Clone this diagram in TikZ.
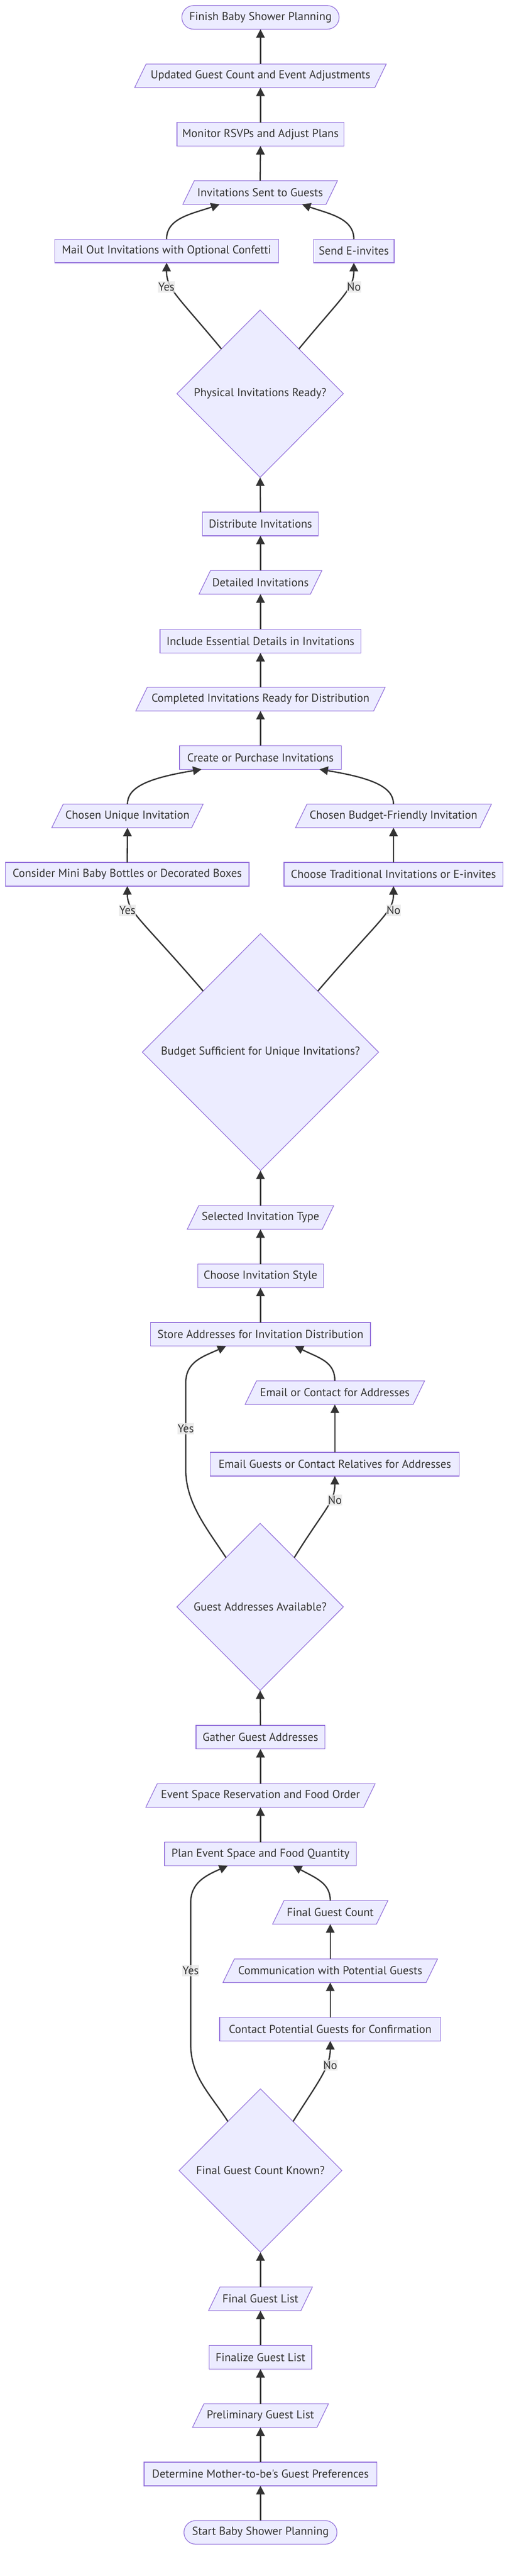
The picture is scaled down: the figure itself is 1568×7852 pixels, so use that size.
\documentclass[tikz,border=0pt]{standalone}
\usepackage{fontspec}
\setmainfont{PT Sans}[Ligatures=TeXOff]
\usetikzlibrary{arrows.meta,shapes.geometric,calc}
\definecolor{nodefill}{HTML}{ECECFF}
\definecolor{nodeline}{HTML}{9370DB}
\definecolor{ink}{HTML}{333333}
\definecolor{lblfill}{HTML}{E8E8E8}
\tikzset{
  base/.style={font=\fontsize{35pt}{42pt}\selectfont, text=ink, inner sep=0pt, outer sep=0pt, minimum height=72pt},
  procbox/.style={base, rectangle, draw=nodeline, fill=nodefill, line width=2pt},
  termbox/.style={procbox, rounded corners=36pt},
  paratext/.style={base, rectangle},
  decision/.style={base, diamond, draw=nodeline, fill=nodefill, line width=2pt},
  paraline/.style={draw=nodeline, fill=nodefill, line width=2pt},
  edge/.style={draw=ink, line width=4pt, -{Triangle[width=26pt,length=26pt]}},
  lbl/.style={base, fill=lblfill, fill opacity=0.8, text opacity=1, minimum height=34pt, inner xsep=1pt},
}
\newcommand\paranode[5]{%
  \path[paraline] ({#2-#4/2+17.5},{#3-36}) -- ({#2+#4/2+17.5},{#3-36}) -- ({#2+#4/2-17.5},{#3+36}) -- ({#2-#4/2-17.5},{#3+36}) -- cycle;
  \node[paratext, minimum width=#4pt] (#1) at (#2,#3) {#5};}
\begin{document}
\begin{tikzpicture}[x=1pt,y=-1pt]
\useasboundingbox (0,0) rectangle (1568,7852);
% nodes
\node[termbox, minimum width=480pt] (finish) at (795,53) {Finish Baby Shower Planning};
\paranode{updated}{795}{231}{733}{Updated Guest Count and Event Adjustments}
\node[procbox, minimum width=510pt] (monitor) at (795,409) {Monitor RSVPs and Adjust Plans};
\paranode{sent}{794}{587}{437}{Invitations Sent to Guests}
\node[procbox, minimum width=683pt] (mail) at (508.5,765) {Mail Out Invitations with Optional Confetti};
\node[procbox, minimum width=246pt] (einv) at (1080,765) {Send E-invites};
\node[decision, minimum width=508pt, minimum height=510pt] (phys) at (794,1200) {Physical Invitations Ready?};
\node[procbox, minimum width=353pt] (distribute) at (795,1597) {Distribute Invitations};
\paranode{detailed}{795}{1775}{340}{Detailed Invitations}
\node[procbox, minimum width=613pt] (include) at (795,1954) {Include Essential Details in Invitations};
\paranode{completed}{795}{2131}{726}{Completed Invitations Ready for Distribution}
\node[procbox, minimum width=494pt] (create) at (795,2309) {Create or Purchase Invitations};
\paranode{unique}{389}{2487}{427}{Chosen Unique Invitation}
\paranode{budgetfr}{1201}{2487}{563}{Chosen Budget-Friendly Invitation}
\node[procbox, minimum width=743pt] (consider) at (388.5,2665) {Consider Mini Baby Bottles or Decorated Boxes};
\node[procbox, minimum width=668pt] (trad) at (1201,2665) {Choose Traditional Invitations or E-invites};
\node[decision, minimum width=721pt, minimum height=722pt] (budget) at (795,3207) {Budget Sufficient for Unique Invitations?};
\paranode{selected}{795}{3711}{412}{Selected Invitation Type}
\node[procbox, minimum width=383pt] (style) at (795,3889) {Choose Invitation Style};
\node[procbox, minimum width=671pt] (store) at (795,4067) {Store Addresses for Invitation Distribution};
\paranode{emailc}{1022}{4245}{513}{Email or Contact for Addresses}
\node[procbox, minimum width=760pt] (emailg) at (1022,4463) {Email Guests or Contact Relatives for Addresses};
\node[decision, minimum width=508pt, minimum height=509pt] (addr) at (794,4898) {Guest Addresses Available?};
\node[procbox, minimum width=393pt] (gather) at (795,5295) {Gather Guest Addresses};
\paranode{eventres}{795}{5473}{665}{Event Space Reservation and Food Order}
\node[procbox, minimum width=585pt] (plan) at (795,5651) {Plan Event Space and Food Quantity};
\paranode{fgc}{1008}{5829}{317}{Final Guest Count}
\paranode{comm}{1008}{6007}{620}{Communication with Potential Guests}
\node[procbox, minimum width=675pt] (contact) at (1008,6185) {Contact Potential Guests for Confirmation};
\node[decision, minimum width=497pt, minimum height=498pt] (known) at (795,6616) {Final Guest Count Known?};
\paranode{fgl}{795}{7007}{282}{Final Guest List}
\node[procbox, minimum width=313pt] (finalize) at (795,7185) {Finalize Guest List};
\paranode{prelim}{795}{7363}{380}{Preliminary Guest List}
\node[procbox, minimum width=711pt] (determine) at (795,7541) {Determine Mother-to-be's Guest Preferences};
\node[termbox, minimum width=467pt] (start) at (795,7719) {Start Baby Shower Planning};
% straight edges
\draw[edge] (start.north) -- (determine.south);
\draw[edge] (determine.north) -- (prelim.south);
\draw[edge] (prelim.north) -- (finalize.south);
\draw[edge] (finalize.north) -- (fgl.south);
\draw[edge] (fgl.north) -- (known.south);
\draw[edge] (contact.north) -- (comm.south);
\draw[edge] (comm.north) -- (fgc.south);
\draw[edge] (plan.north) -- (eventres.south);
\draw[edge] (eventres.north) -- (gather.south);
\draw[edge] (gather.north) -- (addr.south);
\draw[edge] (emailg.north) -- (emailc.south);
\draw[edge] (store.north) -- (style.south);
\draw[edge] (style.north) -- (selected.south);
\draw[edge] (selected.north) -- (budget.south);
\draw[edge] (consider.north) -- (unique.south);
\draw[edge] (trad.north) -- (budgetfr.south);
\draw[edge] (create.north) -- (completed.south);
\draw[edge] (completed.north) -- (include.south);
\draw[edge] (include.north) -- (detailed.south);
\draw[edge] (detailed.north) -- (distribute.south);
\draw[edge] (distribute.north) -- (phys.south);
\draw[edge] (sent.north) -- (monitor.south);
\draw[edge] (monitor.north) -- (updated.south);
\draw[edge] (updated.north) -- (finish.south);
% curved edges
\draw[edge] ($(known.north)!0.4!(known.west)$) .. controls (640,6380) and (582,6330) .. (582,6230) -- (582,5800) .. controls (582,5740) and (625,5718) .. ($(plan.south)+(-100,0)$);
\draw[edge] ($(known.north)!0.4!(known.east)$) .. controls (975,6340) and (1008,6300) .. (contact.south);
\draw[edge] (fgc.north) .. controls (1008,5740) and (965,5725) .. ($(plan.south)+(100,0)$);
\draw[edge] ($(addr.north)!0.41!(addr.west)$) .. controls (630,4657) and (567,4580) .. (567,4480) -- (567,4215) .. controls (567,4150) and (620,4135) .. ($(store.south)+(-105,0)$);
\draw[edge] ($(addr.north)!0.41!(addr.east)$) .. controls (990,4600) and (1022,4580) .. (emailg.south);
\draw[edge] (emailc.north) .. controls (1022,4150) and (975,4140) .. ($(store.south)+(105,0)$);
\draw[edge] ($(budget.north)!0.485!(budget.west)$) .. controls (430,2800) and (389,2780) .. (consider.south);
\draw[edge] ($(budget.north)!0.485!(budget.east)$) .. controls (1160,2800) and (1201,2780) .. (trad.south);
\draw[edge] (unique.north) .. controls (389,2400) and (450,2372) .. ($(create.south)+(-180,0)$);
\draw[edge] (budgetfr.north) .. controls (1201,2400) and (1140,2372) .. ($(create.south)+(180,0)$);
\draw[edge] ($(phys.north)!0.465!(phys.west)$) .. controls (540,900) and (508,880) .. (mail.south);
\draw[edge] ($(phys.north)!0.465!(phys.east)$) .. controls (1048,900) and (1080,880) .. (einv.south);
\draw[edge] (mail.north) .. controls (508,665) and (585,652) .. ($(sent.south)+(-124,0)$);
\draw[edge] (einv.north) .. controls (1080,665) and (1005,652) .. ($(sent.south)+(128,0)$);
% edge labels
\node[lbl] (l1) at (508,875) {Yes};
\node[lbl] (l2) at (1080,875) {No};
\node[lbl] (l3) at (389,2775) {Yes};
\node[lbl] (l4) at (1201,2775) {No};
\node[lbl] (l5) at (567,4355) {Yes};
\node[lbl] (l6) at (1022,4572) {No};
\node[lbl] (l7) at (582,6007) {Yes};
\node[lbl] (l8) at (1008,6295) {No};
\end{tikzpicture}
\end{document}
